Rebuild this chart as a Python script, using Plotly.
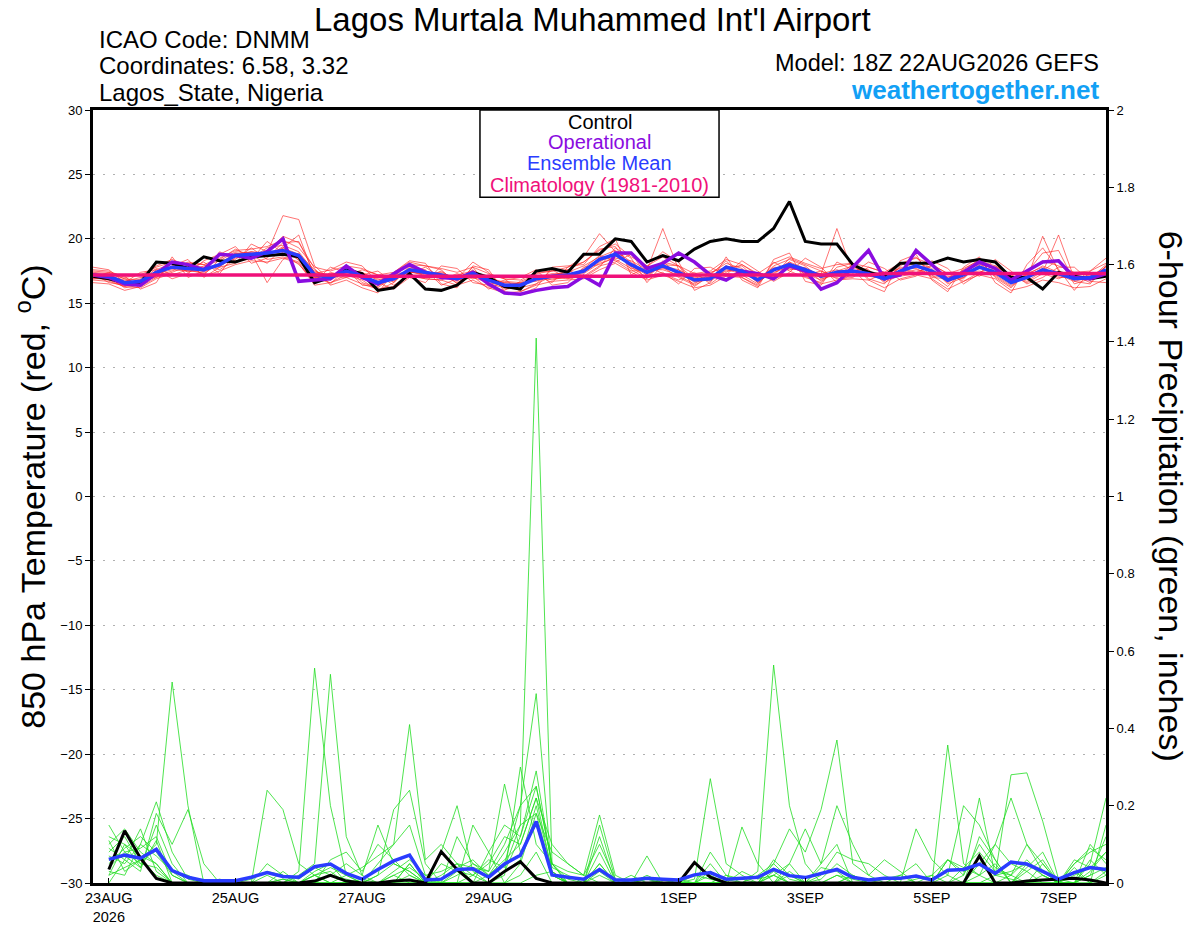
import pandas as pd
import plotly.graph_objects as go

# 6-stuendliche Zeitpunkte ab Modelllauf 18Z 22AUG2026
times = pd.date_range("2026-08-22 18:00", periods=65, freq="6h")
precip_times = times[1:]

tick_dates = ["2026-08-23", "2026-08-25", "2026-08-27", "2026-08-29",
              "2026-09-01", "2026-09-03", "2026-09-05", "2026-09-07"]
tick_labels = ["23AUG<br>2026", "25AUG", "27AUG", "29AUG", "1SEP", "3SEP", "5SEP", "7SEP"]

# 850 hPa Temperatur (C)
t_control = [17.1, 16.9, 16.6, 16.6, 18.2, 18.1, 17.7, 18.6, 18.3, 18.2, 18.6, 18.7, 18.8,
             18.6, 16.6, 17.0, 17.6, 17.3, 16.0, 16.2, 17.3, 16.1, 16.0, 16.4, 17.4, 17.0,
             16.3, 16.1, 17.5, 17.7, 17.4, 18.8, 18.8, 20.0, 19.8, 18.2, 18.7, 18.3, 19.2,
             19.8, 20.0, 19.8, 19.8, 20.8, 22.9, 19.8, 19.6, 19.6, 18.0, 17.4, 17.1, 18.1,
             18.1, 18.1, 18.5, 18.2, 18.4, 18.2, 17.0, 17.0, 16.1, 17.4, 17.1, 16.9, 17.1]
t_operational = [17.2, 17.0, 16.5, 16.4, 17.3, 18.2, 18.0, 17.6, 18.8, 18.7, 18.5, 19.0, 20.0,
                 16.7, 16.8, 16.9, 17.9, 17.0, 16.5, 17.3, 18.0, 17.4, 17.0, 16.9, 17.4, 16.5,
                 15.8, 15.7, 16.0, 16.2, 16.3, 17.1, 16.4, 18.9, 18.9, 17.7, 18.1, 18.9, 18.2,
                 17.2, 16.8, 17.5, 17.3, 16.9, 17.9, 17.5, 16.1, 16.6, 17.8, 19.1, 16.9, 17.2,
                 19.1, 18.0, 16.8, 17.4, 18.2, 17.7, 16.8, 17.5, 18.2, 18.3, 17.0, 16.9, 17.3]
t_mean = [17.2, 17.1, 16.6, 16.7, 17.4, 17.8, 17.7, 17.6, 18.0, 18.7, 18.8, 18.9, 19.1,
          18.7, 17.2, 17.0, 17.5, 17.1, 16.6, 16.9, 17.6, 17.4, 17.2, 16.9, 17.3, 16.8,
          16.4, 16.4, 16.9, 17.1, 17.2, 17.5, 18.4, 18.8, 18.0, 17.4, 17.9, 17.4, 16.8,
          16.9, 17.8, 17.5, 16.8, 17.6, 18.0, 17.6, 17.1, 17.4, 17.5, 17.3, 16.9, 17.5,
          17.9, 17.5, 16.8, 17.2, 17.8, 17.4, 16.6, 17.0, 17.6, 17.3, 16.9, 17.0, 17.6]
t_climo = [17.2, 17.2, 17.2, 17.2, 17.2, 17.2, 17.2, 17.2, 17.2, 17.2, 17.2, 17.2, 17.2,
           17.2, 17.2, 17.2, 17.2, 17.1, 17.1, 17.1, 17.1, 17.1, 17.1, 17.1, 17.1, 17.1,
           17.1, 17.1, 17.1, 17.1, 17.1, 17.1, 17.1, 17.1, 17.1, 17.1, 17.2, 17.2, 17.2,
           17.2, 17.2, 17.2, 17.2, 17.2, 17.2, 17.2, 17.2, 17.2, 17.2, 17.2, 17.3, 17.3,
           17.3, 17.3, 17.3, 17.3, 17.3, 17.3, 17.3, 17.3, 17.3, 17.3, 17.3, 17.3, 17.3]

t_mem01 = [17.0, 16.8, 16.3, 16.9, 17.9, 18.4, 17.9, 17.2, 18.4, 19.2, 18.6, 18.9, 21.8,
           21.5, 17.9, 16.8, 17.9, 16.6, 16.2, 17.1, 18.0, 17.9, 17.6, 16.5, 17.8, 16.3,
           16.0, 16.7, 17.2, 16.6, 17.8, 18.2, 19.2, 19.4, 17.6, 16.9, 18.2, 17.9, 16.3,
           17.2, 18.3, 17.0, 16.4, 18.2, 17.5, 17.0, 16.6, 17.8, 18.1, 16.9, 16.5, 17.9,
           18.6, 17.2, 16.3, 17.6, 18.4, 17.0, 16.2, 17.4, 18.9, 19.1, 16.7, 16.5, 17.9]
t_mem02 = [17.4, 17.3, 16.9, 16.5, 17.1, 17.5, 18.2, 18.0, 17.6, 18.4, 19.3, 18.4, 18.6,
           18.2, 16.5, 17.4, 17.1, 17.6, 17.2, 16.4, 17.2, 16.9, 16.8, 17.3, 16.9, 17.2,
           16.9, 15.9, 16.5, 17.6, 16.9, 17.1, 17.9, 18.2, 18.8, 17.9, 17.3, 16.8, 17.4,
           16.5, 17.4, 18.0, 17.2, 17.1, 18.5, 18.0, 17.5, 16.9, 17.0, 17.8, 17.4, 17.1,
           17.3, 18.0, 17.3, 16.7, 17.4, 17.9, 17.1, 16.6, 17.3, 16.9, 17.4, 17.3, 17.1]
t_mem03 = [16.9, 17.0, 16.2, 16.4, 17.6, 18.1, 17.4, 17.9, 18.3, 19.0, 18.9, 16.6, 18.4,
           18.9, 16.9, 16.6, 17.2, 16.8, 16.0, 16.6, 17.9, 17.0, 17.5, 16.7, 17.6, 16.5,
           16.2, 16.1, 17.3, 17.5, 17.8, 18.6, 20.4, 19.0, 17.8, 17.0, 18.3, 17.1, 16.5,
           17.3, 18.1, 17.7, 16.6, 17.9, 18.4, 17.9, 16.9, 17.2, 17.7, 17.5, 16.7, 17.6,
           18.2, 17.7, 16.5, 17.0, 18.0, 17.7, 16.8, 16.9, 20.2, 17.5, 16.8, 17.1, 17.8]
t_mem04 = [17.3, 17.2, 16.7, 17.0, 17.3, 17.6, 17.5, 17.4, 18.1, 18.9, 18.5, 19.3, 19.5,
           19.0, 17.4, 17.2, 17.6, 17.4, 16.8, 17.2, 17.3, 17.8, 17.0, 17.1, 17.1, 17.0,
           16.6, 16.5, 16.8, 16.9, 17.0, 17.3, 18.1, 18.5, 18.3, 17.6, 20.8, 17.6, 17.0,
           16.7, 17.6, 17.3, 17.0, 17.4, 17.8, 17.4, 17.3, 17.6, 17.2, 17.1, 17.0, 17.3,
           17.6, 17.3, 17.0, 17.4, 17.5, 17.2, 16.4, 17.2, 17.9, 17.4, 17.1, 16.8, 17.4]
t_mem05 = [17.1, 17.0, 16.5, 16.6, 17.2, 17.9, 17.8, 17.7, 17.9, 18.5, 18.9, 18.6, 19.4,
           18.3, 16.9, 17.3, 17.3, 17.0, 16.5, 17.0, 17.5, 17.1, 17.3, 16.8, 17.0, 16.6,
           16.3, 16.6, 16.7, 17.2, 17.4, 17.9, 18.6, 19.1, 18.2, 17.3, 17.9, 17.3, 16.9,
           17.0, 17.9, 17.3, 16.9, 17.8, 17.7, 17.5, 17.3, 20.8, 17.4, 17.2, 17.1, 17.4,
           17.9, 17.4, 16.9, 17.3, 17.7, 17.6, 16.9, 17.1, 17.4, 20.3, 16.9, 17.2, 17.5]
t_mem06 = [17.5, 17.4, 16.9, 16.8, 17.0, 17.4, 17.9, 17.8, 17.8, 18.8, 19.0, 18.9, 19.0,
           18.4, 17.5, 17.1, 17.0, 17.3, 16.9, 16.7, 17.7, 17.5, 16.9, 17.2, 17.5, 16.9,
           16.5, 16.3, 17.1, 17.0, 16.9, 17.7, 18.7, 18.3, 17.5, 17.6, 17.6, 17.2, 17.1,
           16.9, 17.5, 17.6, 16.6, 17.5, 18.2, 17.7, 17.2, 17.0, 17.5, 17.5, 16.8, 17.8,
           17.7, 17.1, 17.1, 17.0, 17.9, 17.3, 16.7, 17.2, 17.6, 17.2, 16.7, 17.0, 17.3]
t_mem07 = [16.8, 16.7, 16.3, 16.2, 16.9, 17.3, 17.2, 17.1, 17.5, 18.0, 18.3, 18.2, 18.5,
           18.1, 16.4, 16.6, 17.0, 16.5, 16.1, 16.3, 17.1, 16.9, 16.8, 16.4, 16.8, 16.2,
           15.8, 15.9, 16.4, 16.7, 16.8, 16.9, 17.6, 18.1, 17.4, 16.8, 17.2, 16.7, 16.2,
           16.4, 17.1, 17.0, 16.3, 16.9, 17.3, 17.1, 16.5, 16.8, 16.9, 16.8, 16.2, 16.9,
           17.2, 16.9, 16.1, 16.7, 17.2, 16.9, 16.0, 16.3, 16.8, 16.6, 16.2, 16.3, 16.9]
t_mem08 = [17.6, 17.5, 17.0, 17.2, 17.8, 18.2, 18.1, 18.0, 18.5, 19.1, 19.2, 19.4, 19.9,
           19.3, 17.8, 17.5, 17.9, 17.7, 17.2, 17.4, 18.2, 17.9, 17.7, 17.4, 17.8, 17.3,
           16.9, 16.8, 17.4, 17.5, 17.6, 18.2, 19.1, 19.6, 18.6, 17.9, 18.6, 17.9, 17.3,
           17.5, 18.4, 18.0, 17.3, 18.1, 18.6, 18.1, 17.7, 18.0, 18.1, 17.8, 17.4, 18.1,
           18.5, 18.0, 17.3, 17.7, 18.3, 17.9, 17.2, 17.5, 18.3, 17.9, 17.4, 17.5, 18.1]
t_mem09 = [17.2, 17.1, 16.8, 16.6, 17.5, 17.7, 17.6, 17.3, 18.1, 18.6, 19.0, 18.7, 19.3,
           20.3, 17.0, 16.9, 17.6, 17.0, 16.4, 16.9, 17.4, 17.3, 17.4, 16.9, 17.4, 16.7,
           16.4, 16.3, 17.0, 17.3, 17.3, 17.4, 18.2, 18.9, 17.9, 17.2, 17.9, 17.6, 16.6,
           17.0, 17.7, 17.4, 16.9, 17.7, 17.9, 17.3, 16.8, 17.5, 17.6, 17.1, 16.9, 17.5,
           17.9, 17.6, 16.6, 17.3, 17.8, 17.4, 16.6, 17.0, 17.5, 17.0, 17.0, 16.9, 18.0]
t_mem10 = [16.9, 16.9, 16.4, 16.8, 17.4, 17.8, 17.5, 17.6, 17.9, 18.8, 18.6, 18.9, 19.2,
           18.6, 17.0, 16.8, 17.5, 16.9, 16.7, 16.8, 17.5, 17.2, 17.1, 16.8, 17.2, 16.9,
           16.6, 16.5, 16.9, 17.0, 17.2, 17.6, 18.3, 18.8, 17.9, 17.4, 17.7, 17.4, 16.7,
           16.8, 17.9, 17.5, 16.9, 17.6, 18.0, 17.6, 17.0, 17.3, 17.4, 17.3, 17.0, 17.5,
           17.8, 17.5, 16.8, 17.2, 17.9, 17.3, 16.7, 17.1, 17.7, 17.2, 16.9, 17.0, 17.5]
t_mem11 = [16.6, 16.5, 16.0, 16.3, 17.0, 17.9, 18.4, 17.0, 17.8, 18.1, 19.6, 19.0, 20.2,
           19.7, 17.7, 16.4, 16.8, 16.2, 15.8, 17.4, 18.3, 18.1, 16.5, 16.2, 17.9, 17.6,
           15.9, 15.7, 16.2, 17.8, 17.9, 18.0, 19.4, 20.0, 17.2, 17.8, 19.0, 18.2, 16.0,
           16.6, 18.6, 16.8, 16.2, 18.4, 18.9, 16.7, 16.4, 18.2, 17.6, 16.4, 15.9, 18.3,
           18.8, 16.8, 15.9, 17.8, 18.6, 16.6, 15.8, 18.0, 19.3, 17.6, 16.0, 17.5, 18.5]
t_mem12 = [17.8, 17.6, 16.6, 17.4, 17.6, 16.9, 17.3, 18.3, 18.8, 19.4, 18.1, 18.5, 19.7,
           19.8, 17.3, 17.6, 18.2, 17.9, 16.6, 16.1, 17.0, 16.6, 17.9, 17.7, 16.6, 16.4,
           16.8, 17.0, 17.6, 16.4, 16.6, 17.8, 18.0, 18.6, 18.9, 17.1, 17.4, 16.5, 17.7,
           17.8, 17.2, 18.3, 17.5, 16.7, 17.4, 18.5, 17.8, 16.6, 17.3, 18.2, 17.7, 16.8,
           17.1, 18.3, 17.7, 16.5, 17.3, 18.4, 17.5, 16.5, 17.0, 17.8, 17.8, 16.7, 16.6]
t_mem13 = [17.0, 17.4, 17.1, 16.1, 16.6, 18.6, 17.0, 17.5, 19.0, 18.3, 18.4, 19.8, 18.9,
           18.0, 16.7, 17.8, 17.4, 17.2, 17.5, 16.6, 17.8, 17.6, 16.4, 16.9, 18.2, 17.4,
           16.1, 16.2, 16.5, 17.1, 17.6, 17.0, 17.8, 19.3, 18.5, 16.6, 18.0, 17.9, 16.9,
           17.4, 17.8, 17.9, 16.8, 17.3, 18.2, 17.2, 17.5, 17.1, 18.0, 16.8, 17.3, 17.7,
           17.4, 17.9, 16.7, 17.6, 17.1, 17.8, 17.2, 16.7, 17.5, 18.4, 16.5, 16.9, 17.6]
t_mem14 = [17.3, 16.6, 16.4, 16.7, 17.7, 17.2, 17.6, 18.2, 17.3, 18.9, 18.7, 18.1, 19.3,
           18.8, 17.6, 16.5, 17.7, 16.4, 16.3, 17.3, 17.4, 17.3, 17.2, 16.6, 17.1, 16.1,
           16.7, 16.6, 17.1, 16.8, 17.1, 17.4, 18.5, 18.4, 17.7, 17.5, 17.8, 17.0, 16.4,
           17.1, 17.3, 17.2, 16.5, 17.7, 17.6, 17.8, 16.7, 17.5, 17.9, 17.6, 16.6, 17.2,
           18.0, 17.0, 16.9, 16.9, 18.1, 17.1, 16.3, 17.3, 17.8, 17.1, 17.2, 16.6, 17.9]
t_members = [t_mem01, t_mem02, t_mem03, t_mem04, t_mem05, t_mem06, t_mem07,
             t_mem08, t_mem09, t_mem10, t_mem11, t_mem12, t_mem13, t_mem14]

# 6-stuendlicher Niederschlag (inches), ab 00Z 23AUG
p_control = [0.035, 0.135, 0.064, 0.012, 0.0, 0.0, 0.0, 0.0, 0.0, 0.0, 0.0, 0.0, 0.0, 0.005, 0.02, 0.005,
             0.0, 0.0, 0.005, 0.008, 0.0, 0.081, 0.035, 0.0, 0.0, 0.03, 0.055, 0.012, 0.0, 0.0, 0.0, 0.0,
             0.0, 0.0, 0.0, 0.0, 0.0, 0.053, 0.015, 0.0, 0.0, 0.0, 0.0, 0.0, 0.0, 0.0, 0.0, 0.0,
             0.0, 0.0, 0.0, 0.0, 0.0, 0.0, 0.0, 0.07, 0.0, 0.0, 0.005, 0.008, 0.01, 0.012, 0.008, 0.0]
p_mean = [0.061, 0.072, 0.064, 0.087, 0.032, 0.015, 0.006, 0.006, 0.006, 0.015, 0.027, 0.017, 0.015, 0.042, 0.049, 0.025,
          0.01, 0.035, 0.057, 0.072, 0.008, 0.01, 0.035, 0.037, 0.015, 0.049, 0.072, 0.159, 0.021, 0.015, 0.01, 0.035,
          0.008, 0.008, 0.012, 0.01, 0.008, 0.021, 0.027, 0.01, 0.012, 0.015, 0.035, 0.019, 0.014, 0.025, 0.035, 0.015,
          0.008, 0.012, 0.012, 0.018, 0.008, 0.033, 0.035, 0.049, 0.025, 0.054, 0.049, 0.03, 0.01, 0.027, 0.04, 0.035]

p_mem01 = [0.05, 0.09, 0.12, 0.08, 0.02, 0.0, 0.0, 0.0, 0.0, 0.01, 0.03, 0.02, 0.01, 0.04, 0.02, 0.01,
           0.0, 0.02, 0.05, 0.03, 0.0, 0.01, 0.04, 0.06, 0.02, 0.08, 0.15, 1.41, 0.05, 0.01, 0.0, 0.03,
           0.0, 0.0, 0.01, 0.0, 0.0, 0.02, 0.01, 0.0, 0.03, 0.01, 0.02, 0.0, 0.0, 0.01, 0.05, 0.02,
           0.0, 0.0, 0.0, 0.01, 0.02, 0.0, 0.04, 0.02, 0.05, 0.0, 0.03, 0.06, 0.0, 0.02, 0.04, 0.03]
p_mem02 = [0.02, 0.04, 0.06, 0.1, 0.52, 0.2, 0.0, 0.0, 0.0, 0.0, 0.0, 0.01, 0.0, 0.02, 0.03, 0.0,
           0.01, 0.0, 0.02, 0.04, 0.01, 0.0, 0.02, 0.05, 0.03, 0.1, 0.2, 0.49, 0.02, 0.0, 0.0, 0.15,
           0.01, 0.0, 0.02, 0.0, 0.0, 0.0, 0.03, 0.01, 0.0, 0.0, 0.05, 0.01, 0.0, 0.02, 0.08, 0.06,
           0.05, 0.02, 0.0, 0.0, 0.0, 0.06, 0.02, 0.1, 0.04, 0.02, 0.0, 0.05, 0.0, 0.0, 0.03, 0.08]
p_mem03 = [0.12, 0.1, 0.04, 0.15, 0.05, 0.0, 0.0, 0.01, 0.0, 0.0, 0.02, 0.0, 0.03, 0.556, 0.2, 0.02,
           0.0, 0.05, 0.1, 0.15, 0.02, 0.03, 0.05, 0.02, 0.0, 0.03, 0.12, 0.29, 0.04, 0.02, 0.0, 0.05,
           0.0, 0.0, 0.0, 0.01, 0.0, 0.0, 0.0, 0.02, 0.01, 0.0, 0.0, 0.02, 0.0, 0.0, 0.02, 0.01,
           0.0, 0.0, 0.0, 0.0, 0.0, 0.0, 0.02, 0.22, 0.02, 0.03, 0.05, 0.02, 0.0, 0.0, 0.06, 0.02]
p_mem04 = [0.07, 0.05, 0.1, 0.21, 0.08, 0.01, 0.0, 0.0, 0.0, 0.0, 0.0, 0.0, 0.02, 0.05, 0.54, 0.12,
           0.02, 0.0, 0.0, 0.05, 0.0, 0.05, 0.03, 0.02, 0.05, 0.12, 0.1, 0.22, 0.1, 0.05, 0.02, 0.1,
           0.01, 0.0, 0.0, 0.0, 0.01, 0.0, 0.02, 0.0, 0.0, 0.03, 0.564, 0.2, 0.05, 0.0, 0.0, 0.02,
           0.0, 0.01, 0.02, 0.0, 0.0, 0.0, 0.0, 0.0, 0.02, 0.01, 0.0, 0.0, 0.0, 0.03, 0.0, 0.02]
p_mem05 = [0.04, 0.08, 0.09, 0.12, 0.02, 0.0, 0.0, 0.0, 0.0, 0.0, 0.0, 0.0, 0.0, 0.02, 0.04, 0.02,
           0.04, 0.07, 0.1, 0.41, 0.06, 0.1, 0.05, 0.04, 0.03, 0.256, 0.08, 0.15, 0.02, 0.0, 0.0, 0.02,
           0.0, 0.0, 0.01, 0.0, 0.0, 0.01, 0.27, 0.05, 0.02, 0.0, 0.0, 0.05, 0.14, 0.05, 0.2, 0.1,
           0.02, 0.0, 0.0, 0.0, 0.0, 0.357, 0.05, 0.02, 0.0, 0.0, 0.05, 0.03, 0.0, 0.0, 0.02, 0.04]
p_mem06 = [0.1, 0.14, 0.08, 0.05, 0.0, 0.0, 0.0, 0.0, 0.0, 0.0, 0.0, 0.0, 0.0, 0.0, 0.02, 0.05,
           0.02, 0.15, 0.05, 0.03, 0.0, 0.08, 0.2, 0.03, 0.0, 0.02, 0.3, 0.1, 0.05, 0.0, 0.0, 0.0,
           0.0, 0.0, 0.0, 0.0, 0.0, 0.0, 0.0, 0.0, 0.0, 0.02, 0.05, 0.14, 0.08, 0.19, 0.37, 0.05,
           0.02, 0.06, 0.03, 0.0, 0.0, 0.0, 0.0, 0.05, 0.1, 0.22, 0.1, 0.05, 0.0, 0.05, 0.09, 0.06]
p_mem07 = [0.0, 0.06, 0.03, 0.18, 0.1, 0.19, 0.05, 0.0, 0.0, 0.0, 0.24, 0.19, 0.05, 0.02, 0.0, 0.0,
           0.0, 0.02, 0.19, 0.24, 0.05, 0.0, 0.03, 0.0, 0.02, 0.05, 0.2, 0.25, 0.05, 0.03, 0.02, 0.176,
           0.02, 0.0, 0.07, 0.0, 0.0, 0.0, 0.0, 0.0, 0.0, 0.0, 0.0, 0.0, 0.0, 0.05, 0.1, 0.0,
           0.0, 0.0, 0.0, 0.14, 0.06, 0.02, 0.2, 0.15, 0.06, 0.0, 0.0, 0.02, 0.0, 0.0, 0.05, 0.22]
p_mem08 = [0.08, 0.12, 0.05, 0.04, 0.0, 0.0, 0.0, 0.0, 0.0, 0.0, 0.0, 0.0, 0.0, 0.03, 0.05, 0.0,
           0.0, 0.0, 0.0, 0.05, 0.0, 0.0, 0.0, 0.15, 0.08, 0.0, 0.05, 0.18, 0.08, 0.05, 0.02, 0.0,
           0.0, 0.02, 0.0, 0.0, 0.0, 0.0, 0.05, 0.0, 0.145, 0.05, 0.0, 0.03, 0.0, 0.0, 0.02, 0.0,
           0.0, 0.0, 0.0, 0.0, 0.02, 0.06, 0.03, 0.05, 0.02, 0.28, 0.285, 0.16, 0.01, 0.0, 0.1, 0.05]
p_mem09 = [0.03, 0.02, 0.1, 0.07, 0.03, 0.0, 0.0, 0.0, 0.0, 0.0, 0.0, 0.01, 0.0, 0.02, 0.0, 0.0,
           0.0, 0.0, 0.02, 0.0, 0.0, 0.0, 0.0, 0.0, 0.0, 0.0, 0.0, 0.02, 0.03, 0.0, 0.0, 0.12,
           0.0, 0.0, 0.0, 0.0, 0.0, 0.0, 0.0, 0.0, 0.0, 0.0, 0.02, 0.0, 0.0, 0.0, 0.0, 0.0,
           0.0, 0.0, 0.0, 0.0, 0.0, 0.02, 0.0, 0.0, 0.0, 0.0, 0.0, 0.0, 0.0, 0.04, 0.0, 0.0]
p_mem10 = [0.06, 0.07, 0.04, 0.11, 0.0, 0.0, 0.0, 0.0, 0.0, 0.0, 0.0, 0.03, 0.0, 0.0, 0.0, 0.0,
           0.0, 0.0, 0.0, 0.02, 0.0, 0.0, 0.0, 0.0, 0.0, 0.03, 0.06, 0.2, 0.03, 0.0, 0.0, 0.0,
           0.0, 0.0, 0.0, 0.0, 0.0, 0.0, 0.0, 0.0, 0.0, 0.0, 0.0, 0.0, 0.0, 0.0, 0.0, 0.0,
           0.0, 0.0, 0.0, 0.0, 0.0, 0.0, 0.0, 0.02, 0.1, 0.05, 0.03, 0.0, 0.0, 0.0, 0.0, 0.15]
p_mem11 = [0.15, 0.08, 0.05, 0.09, 0.03, 0.02, 0.0, 0.0, 0.0, 0.0, 0.05, 0.02, 0.0, 0.0, 0.06, 0.08,
           0.03, 0.1, 0.06, 0.02, 0.0, 0.0, 0.12, 0.05, 0.02, 0.06, 0.1, 0.22, 0.03, 0.0, 0.0, 0.08,
           0.0, 0.0, 0.0, 0.0, 0.0, 0.0, 0.08, 0.02, 0.0, 0.0, 0.06, 0.02, 0.0, 0.04, 0.03, 0.0,
           0.0, 0.0, 0.02, 0.05, 0.0, 0.06, 0.04, 0.08, 0.03, 0.02, 0.1, 0.03, 0.0, 0.06, 0.04, 0.08]
p_mem12 = [0.09, 0.06, 0.14, 0.03, 0.0, 0.0, 0.0, 0.0, 0.0, 0.0, 0.0, 0.0, 0.0, 0.0, 0.0, 0.02,
           0.0, 0.0, 0.03, 0.06, 0.02, 0.0, 0.0, 0.02, 0.06, 0.04, 0.15, 0.18, 0.02, 0.0, 0.0, 0.05,
           0.0, 0.0, 0.0, 0.0, 0.0, 0.0, 0.0, 0.0, 0.0, 0.0, 0.02, 0.05, 0.0, 0.0, 0.0, 0.02,
           0.0, 0.0, 0.0, 0.0, 0.0, 0.0, 0.0, 0.0, 0.0, 0.0, 0.04, 0.08, 0.0, 0.0, 0.0, 0.03]
p_mem13 = [0.02, 0.1, 0.07, 0.05, 0.0, 0.0, 0.0, 0.0, 0.0, 0.0, 0.0, 0.0, 0.0, 0.0, 0.0, 0.0,
           0.0, 0.0, 0.0, 0.0, 0.0, 0.02, 0.05, 0.0, 0.08, 0.15, 0.12, 0.25, 0.05, 0.0, 0.0, 0.0,
           0.0, 0.0, 0.0, 0.0, 0.0, 0.0, 0.0, 0.0, 0.0, 0.0, 0.03, 0.0, 0.0, 0.0, 0.0, 0.0,
           0.0, 0.0, 0.0, 0.0, 0.0, 0.0, 0.0, 0.12, 0.06, 0.0, 0.0, 0.0, 0.0, 0.0, 0.02, 0.12]
p_mem14 = [0.11, 0.03, 0.06, 0.02, 0.0, 0.0, 0.0, 0.0, 0.0, 0.0, 0.0, 0.0, 0.0, 0.0, 0.0, 0.0,
           0.0, 0.0, 0.0, 0.0, 0.0, 0.0, 0.0, 0.0, 0.0, 0.0, 0.02, 0.08, 0.0, 0.0, 0.0, 0.0,
           0.0, 0.0, 0.0, 0.0, 0.0, 0.0, 0.0, 0.0, 0.0, 0.0, 0.0, 0.0, 0.0, 0.0, 0.0, 0.0,
           0.0, 0.0, 0.0, 0.0, 0.0, 0.0, 0.0, 0.0, 0.0, 0.02, 0.06, 0.02, 0.0, 0.05, 0.08, 0.1]
p_members = [p_mem01, p_mem02, p_mem03, p_mem04, p_mem05, p_mem06, p_mem07,
             p_mem08, p_mem09, p_mem10, p_mem11, p_mem12, p_mem13, p_mem14]

FONT = "Liberation Sans, Arial, Helvetica, sans-serif"

fig = go.Figure()

# Niederschlag (rechte Achse)
for p in p_members:
    fig.add_trace(go.Scatter(x=precip_times, y=p, yaxis="y2", mode="lines",
                             line=dict(color="#22dd22", width=0.8), hoverinfo="skip"))

# Temperatur-Member (rot)
for t in t_members:
    fig.add_trace(go.Scatter(x=times, y=t, mode="lines",
                             line=dict(color="rgba(255,35,35,0.8)", width=0.8), hoverinfo="skip"))

fig.add_trace(go.Scatter(x=precip_times, y=p_control, yaxis="y2", mode="lines",
                         line=dict(color="black", width=3)))
fig.add_trace(go.Scatter(x=precip_times, y=p_mean, yaxis="y2", mode="lines",
                         line=dict(color="#2a3cff", width=3.5)))

fig.add_trace(go.Scatter(x=times, y=t_control, mode="lines", line=dict(color="black", width=3)))
fig.add_trace(go.Scatter(x=times, y=t_operational, mode="lines", line=dict(color="#8a0ce0", width=3.5)))
fig.add_trace(go.Scatter(x=times, y=t_mean, mode="lines", line=dict(color="#2a3cff", width=3.5)))
fig.add_trace(go.Scatter(x=times, y=t_climo, mode="lines", line=dict(color="#f0107a", width=3.5)))

# die Seite hat 8px Rand, daher die Raender etwas verschoben
fig.update_layout(
    width=1200, height=927,
    margin=dict(l=85, r=102, t=102, b=52),
    paper_bgcolor="white", plot_bgcolor="white",
    showlegend=False,
    font=dict(family=FONT, color="black"),
    xaxis=dict(
        range=[times[0], times[-1]],
        tickvals=tick_dates, ticktext=tick_labels,
        ticks="inside", ticklen=5, tickcolor="black",
        showgrid=False, zeroline=False, automargin=False,
        showline=True, linecolor="black", linewidth=3, mirror=True,
        tickfont=dict(size=14.5),
    ),
    yaxis=dict(
        range=[-30, 30], dtick=5, tick0=0,
        ticks="outside", ticklen=5, tickcolor="black",
        showgrid=True, gridcolor="#b0b0b0", griddash="2px,8px", gridwidth=1,
        zeroline=False, automargin=False,
        showline=True, linecolor="black", linewidth=3,
        tickfont=dict(size=13),
    ),
    yaxis2=dict(
        range=[0, 2], dtick=0.2, tick0=0,
        overlaying="y", side="right",
        ticks="outside", ticklen=5, tickcolor="black",
        showgrid=False, zeroline=False, automargin=False,
        showline=True, linecolor="black", linewidth=3,
        tickfont=dict(size=13),
    ),
)

# Legendenkasten
fig.add_shape(type="rect", xref="paper", yref="paper",
              x0=0.382, x1=0.618, y0=0.887, y1=1.0,
              line=dict(color="black", width=1.5), fillcolor="white", layer="above")

legend_items = [("Control", "black", 0.985), ("Operational", "#8a0ce0", 0.958),
                ("Ensemble Mean", "#2a3cff", 0.931), ("Climatology (1981-2010)", "#f0107a", 0.903)]
for text, color, yy in legend_items:
    fig.add_annotation(text=text, x=0.5, y=yy, xref="paper", yref="paper",
                       showarrow=False, font=dict(size=20, color=color), xanchor="center", yanchor="middle")

# Titel und Kopfzeilen
fig.add_annotation(text="Lagos Murtala Muhammed Int'l Airport", x=0.4935, y=1.117, xref="paper", yref="paper",
                   showarrow=False, font=dict(size=33), xanchor="center", yanchor="middle")
for text, yy in [("ICAO Code: DNMM", 1.091), ("Coordinates: 6.58, 3.32", 1.057),
                 ("Lagos_State, Nigeria", 1.022)]:
    fig.add_annotation(text=text, x=0.004, y=yy, xref="paper", yref="paper",
                       showarrow=False, font=dict(size=24), xanchor="left", yanchor="middle")
fig.add_annotation(text="Model: 18Z 22AUG2026 GEFS", x=0.9955, y=1.0605, xref="paper", yref="paper",
                   showarrow=False, font=dict(size=23.5), xanchor="right", yanchor="middle")
fig.add_annotation(text="<b>weathertogether.net</b>", x=0.9955, y=1.026, xref="paper", yref="paper",
                   showarrow=False, font=dict(size=26, color="#12a0f5"), xanchor="right", yanchor="middle")

# Achsentitel
fig.add_annotation(text="850 hPa Temperature (red, <sup>o</sup>C)", x=-0.062, y=0.5, xref="paper", yref="paper",
                   showarrow=False, textangle=-90, font=dict(size=34), xanchor="center", yanchor="middle")
fig.add_annotation(text="6-hour Precipitation (green, inches)", x=1.065, y=0.5, xref="paper", yref="paper",
                   showarrow=False, textangle=90, font=dict(size=34), xanchor="center", yanchor="middle")

fig.write_html("out.html")
